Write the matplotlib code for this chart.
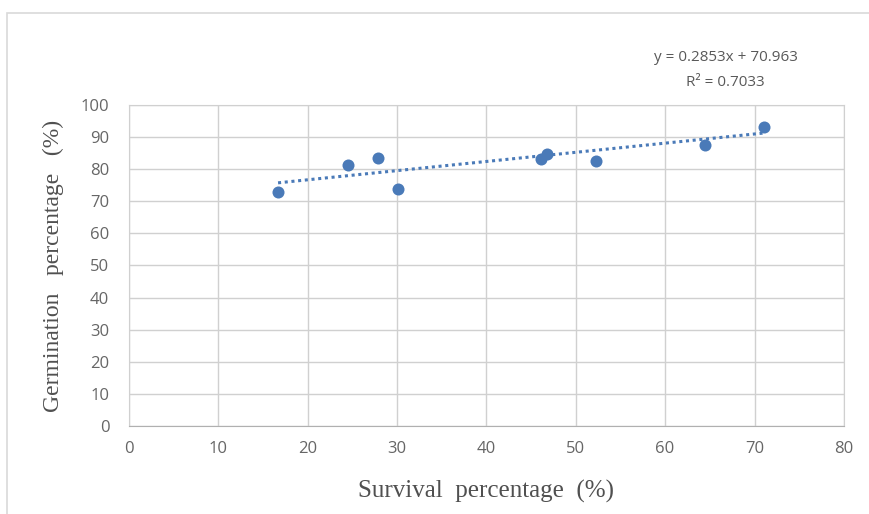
import numpy as np
import matplotlib.pyplot as plt
from matplotlib.patches import Rectangle

# data
survival = [16.7, 24.5, 27.9, 30.1, 46.1, 46.8, 52.3, 64.5, 71.1]
germination = [72.9, 81.3, 83.5, 73.8, 83.2, 84.7, 82.6, 87.5, 93.1]
slope = 0.2853
intercept = 70.963
r2 = 0.7033
xticks = [0, 10, 20, 30, 40, 50, 60, 70, 80]
yticks = [0, 10, 20, 30, 40, 50, 60, 70, 80, 90, 100]

fig = plt.figure(figsize=(8.7, 5.14), dpi=100)
ax = fig.add_axes([0.148, 0.171, 0.822, 0.625])

# outer chart frame
fig.patches.append(Rectangle((0.008, -0.01), 1.0, 0.985, transform=fig.transFigure,
                             fill=False, edgecolor='#d9d9d9', linewidth=1.2))

ax.scatter(survival, germination, s=75, color='#4a7ab8', zorder=3, linewidths=0)
xs = np.array([min(survival), max(survival)])
ax.plot(xs, slope * xs + intercept, linestyle=(0, (1, 1.2)), color='#4a7ab8',
        linewidth=2.2, zorder=2)

ax.set_xlim(0, 80)
ax.set_ylim(0, 100)
ax.set_xticks(xticks)
ax.set_yticks(yticks)
ax.grid(True, color='#d0d0d0', linewidth=1)
ax.set_axisbelow(True)
for side in ['top', 'right', 'left']:
    ax.spines[side].set_color('#d0d0d0')
ax.spines['bottom'].set_color('#b0b0b0')
ax.tick_params(length=0, labelsize=12, labelcolor='#666666')
ax.tick_params(axis='y', pad=14)
ax.tick_params(axis='x', pad=11)
for lab in ax.get_xticklabels() + ax.get_yticklabels():
    lab.set_fontfamily('Open Sans')

ax.set_xlabel('Survival  percentage  (%)', fontfamily='Liberation Serif',
              fontsize=18, color='#505050', labelpad=16)
ax.set_ylabel('Germination   percentage   (%)', fontfamily='Liberation Serif',
              fontsize=17, color='#505050', labelpad=12)

fig.text(0.834, 0.889, 'y = 0.2853x + 70.963', ha='center', va='center',
         fontsize=11, color='#595959', fontfamily='Open Sans')
fig.text(0.834, 0.840, 'R² = 0.7033', ha='center', va='center',
         fontsize=11, color='#595959', fontfamily='Open Sans')

plt.savefig('out.png', dpi=100)
